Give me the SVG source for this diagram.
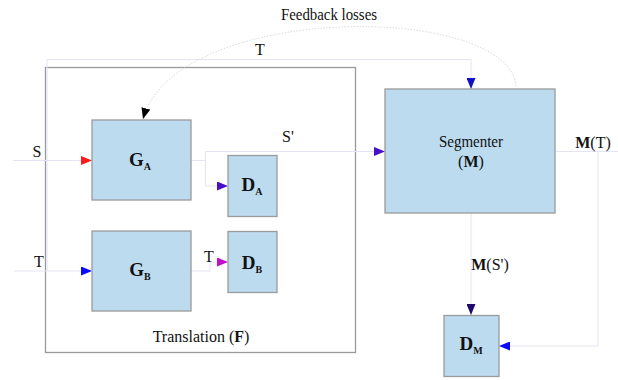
<svg xmlns="http://www.w3.org/2000/svg" width="618" height="380" viewBox="0 0 618 380" font-family="'Liberation Serif', 'DejaVu Serif', serif">
<style>
text{font-family:'Liberation Serif','DejaVu Serif','Times New Roman',serif;fill:#111}
.node{fill:#bcdbef;stroke:#9a9a9a;stroke-width:1.3}
.frame{fill:none;stroke:#9a9a9a;stroke-width:1.3}
.lbl{font-size:16px}
.big{font-size:19px;font-weight:bold}
.sub{font-size:10px;font-weight:bold}
.con{fill:none;stroke:#e4e4f4;stroke-width:1}
</style>
<defs>
<marker id="aRed" markerUnits="userSpaceOnUse" markerWidth="12" markerHeight="9" refX="11" refY="4.5" orient="auto"><path d="M0,0 L11,4.5 L0,9 z" fill="#ff1a1a"/></marker>
<marker id="aBlue" markerUnits="userSpaceOnUse" markerWidth="12" markerHeight="9" refX="11" refY="4.5" orient="auto"><path d="M0,0 L11,4.5 L0,9 z" fill="#0a0aff"/></marker>
<marker id="aNavy" markerUnits="userSpaceOnUse" markerWidth="12" markerHeight="9" refX="11" refY="4.5" orient="auto"><path d="M0,0 L11,4.5 L0,9 z" fill="#1010c8"/></marker>
<marker id="aPurple" markerUnits="userSpaceOnUse" markerWidth="12" markerHeight="9" refX="11" refY="4.5" orient="auto"><path d="M0,0 L11,4.5 L0,9 z" fill="#4a10c8"/></marker>
<marker id="aMag" markerUnits="userSpaceOnUse" markerWidth="12" markerHeight="9" refX="11" refY="4.5" orient="auto"><path d="M0,0 L11,4.5 L0,9 z" fill="#c010c8"/></marker>
<marker id="aDark" markerUnits="userSpaceOnUse" markerWidth="12" markerHeight="9" refX="11" refY="4.5" orient="auto"><path d="M0,0 L11,4.5 L0,9 z" fill="#200a70"/></marker>
<marker id="aBlack" markerUnits="userSpaceOnUse" markerWidth="12" markerHeight="9" refX="11" refY="4.5" orient="auto"><path d="M0,0 L11,4.5 L0,9 z" fill="#000"/></marker>
</defs>

<g id="translation">
<rect class="frame" x="45.5" y="67.5" width="310" height="285"/>
<text class="lbl" x="201" y="342" text-anchor="middle" font-size="15">Translation (<tspan font-weight="bold">F</tspan>)</text>
</g>

<g id="connectors">
<path class="con" d="M13,160.5 H92" stroke="#f6dede" marker-end="url(#aRed)"/>
<path class="con" d="M14,271 H92" marker-end="url(#aBlue)"/>
<path class="con" d="M47,271 V59.5 H471 V89" marker-end="url(#aNavy)"/>
<path class="con" d="M191,160.5 H205.5 V151.5 H385" marker-end="url(#aPurple)"/>
<path class="con" d="M205.5,151.5 V186 H228" marker-end="url(#aPurple)"/>
<path class="con" d="M191,271 H210 V262 H228" marker-end="url(#aMag)"/>
<path class="con" d="M471,213 V315" stroke="#e4e4e4" marker-end="url(#aDark)"/>
<path class="con" d="M555,151.5 H618 M598,151.5 V346 H499" marker-end="url(#aBlue)"/>
<path d="M516,86 C508,2 175,2 143,119" fill="none" stroke="#dcdcdc" stroke-width="1" stroke-dasharray="1.5,1.5" marker-end="url(#aBlack)"/>
<text class="lbl" x="329" y="20" text-anchor="middle" textLength="96" lengthAdjust="spacingAndGlyphs">Feedback losses</text>
<text class="lbl" x="260" y="55" text-anchor="middle">T</text>
<text class="lbl" x="37" y="157" text-anchor="middle">S</text>
<text class="lbl" x="39" y="267" text-anchor="middle">T</text>
<text class="lbl" x="288" y="142" text-anchor="middle">S'</text>
<text class="lbl" x="209" y="262" text-anchor="middle">T</text>
<text class="lbl" x="593" y="148" text-anchor="middle"><tspan font-weight="bold">M</tspan>(T)</text>
<text class="lbl" x="490" y="270" text-anchor="middle"><tspan font-weight="bold">M</tspan>(S')</text>
</g>

<g id="GA">
<rect class="node" x="92" y="120" width="99" height="80"/>
<text x="140" y="166" text-anchor="middle"><tspan class="big">G</tspan><tspan class="sub" dy="4">A</tspan></text>
</g>
<g id="GB">
<rect class="node" x="92" y="231" width="99" height="80"/>
<text x="140" y="276" text-anchor="middle"><tspan class="big">G</tspan><tspan class="sub" dy="4">B</tspan></text>
</g>
<g id="DA">
<rect class="node" x="228" y="155.5" width="49" height="61"/>
<text x="252" y="191" text-anchor="middle"><tspan class="big">D</tspan><tspan class="sub" dy="4">A</tspan></text>
</g>
<g id="DB">
<rect class="node" x="228" y="231.5" width="49" height="61"/>
<text x="252" y="269" text-anchor="middle"><tspan class="big">D</tspan><tspan class="sub" dy="4">B</tspan></text>
</g>
<g id="segmenter">
<rect class="node" x="385" y="89" width="170" height="124"/>
<text class="lbl" x="471" y="147" text-anchor="middle" textLength="64" lengthAdjust="spacingAndGlyphs">Segmenter</text>
<text class="lbl" x="471" y="167" text-anchor="middle">(<tspan font-weight="bold">M</tspan>)</text>
</g>
<g id="DM">
<rect class="node" x="444" y="315.5" width="55" height="61"/>
<text x="471" y="350" text-anchor="middle"><tspan class="big">D</tspan><tspan class="sub" dy="4">M</tspan></text>
</g>
</svg>
